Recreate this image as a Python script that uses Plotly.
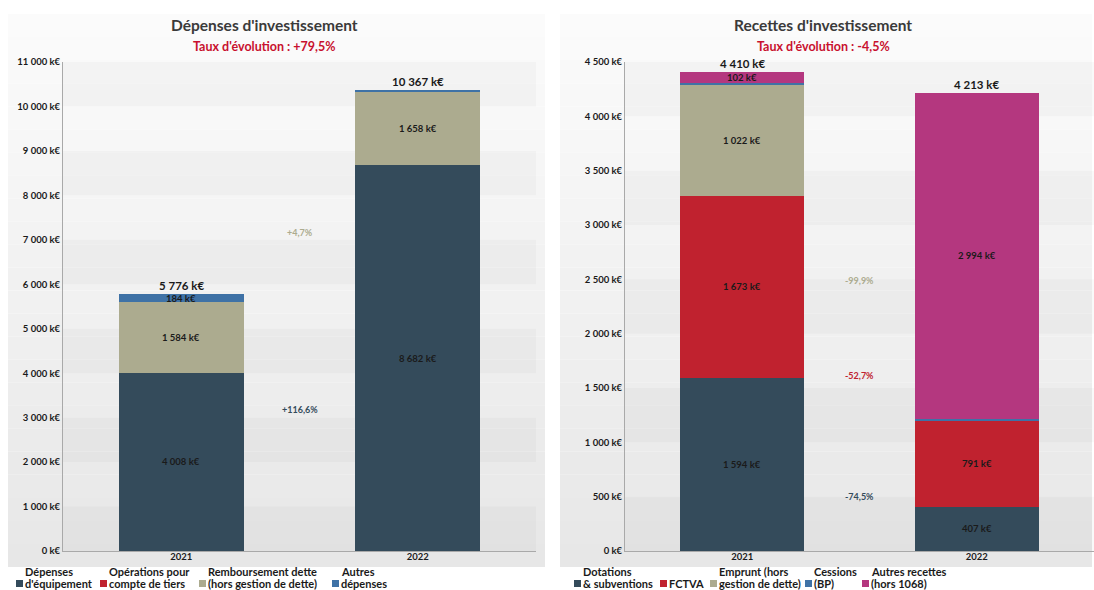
import plotly.graph_objects as go

# ---- data -------------------------------------------------------------
years = ["2021", "2022"]

# Dépenses d'investissement (k€)
dep_names = ["Dépenses<br>d'équipement", "Opérations pour<br>compte de tiers",
             "Remboursement dette<br>(hors gestion de dette)", "Autres<br>dépenses"]
dep_equipement = [4008, 8682]
dep_operations = [0, 0]
dep_remboursement = [1584, 1658]
dep_autres = [184, 27]
dep_totals = [5776, 10367]

# Recettes d'investissement (k€)
rec_names = ["Dotations<br>& subventions", "FCTVA", "Emprunt (hors<br>gestion de dette)",
             "Cessions<br>(BP)", "Autres recettes<br>(hors 1068)"]
rec_dotations = [1594, 407]
rec_fctva = [1673, 791]
rec_emprunt = [1022, 1]
rec_cessions = [19, 20]
rec_autres = [102, 2994]
rec_totals = [4410, 4213]

dep_tickvals = [0, 1000, 2000, 3000, 4000, 5000, 6000, 7000, 8000, 9000, 10000, 11000]
dep_ticktext = ["0 k€", "1 000 k€", "2 000 k€", "3 000 k€", "4 000 k€", "5 000 k€",
                "6 000 k€", "7 000 k€", "8 000 k€", "9 000 k€", "10 000 k€", "11 000 k€"]
rec_tickvals = [0, 500, 1000, 1500, 2000, 2500, 3000, 3500, 4000, 4500]
rec_ticktext = ["0 k€", "500 k€", "1 000 k€", "1 500 k€", "2 000 k€", "2 500 k€",
                "3 000 k€", "3 500 k€", "4 000 k€", "4 500 k€"]

# ---- styling ----------------------------------------------------------
FONT = "Lato"
C_SLATE = "#344b5b"
C_RED = "#c0222f"
C_OLIVE = "#acab8f"
C_BLUE = "#3f72a6"
C_MAGENTA = "#b4377f"
TXT = "#1a1a1a"

W, H = 1094, 590
M_T, M_B = 62, 39
PLOT_H = H - M_T - M_B


def py(px):
    """pixel row -> paper y"""
    return (H - M_B - px) / PLOT_H


def px_x(px):
    return px / W


def keur(v):
    return f"{v:,}".replace(",", "\u00a0") + "\u00a0k€"


def evol(a, b):
    return f"{(b / a - 1) * 100:+.1f}%".replace(".", ",")


fig = go.Figure()

panels = [
    dict(xa="x", ya="y",
         series=[(dep_names[0], dep_equipement, C_SLATE, True),
                 (dep_names[1], dep_operations, C_RED, False),
                 (dep_names[2], dep_remboursement, C_OLIVE, True),
                 (dep_names[3], dep_autres, C_BLUE, False)],
         totals=dep_totals,
         legend_x=[16, 100, 199, 332]),
    dict(xa="x2", ya="y2",
         series=[(rec_names[0], rec_dotations, C_SLATE, True),
                 (rec_names[1], rec_fctva, C_RED, True),
                 (rec_names[2], rec_emprunt, C_OLIVE, True),
                 (rec_names[3], rec_cessions, C_BLUE, False),
                 (rec_names[4], rec_autres, C_MAGENTA, False)],
         totals=rec_totals,
         legend_x=[574, 660, 710, 805, 862]),
]

annotations = []
shapes = []

# panel backgrounds: soft vertical gradient
steps = 24
for x0, x1 in [(8, 545), (560, 1092)]:
    top, bot = 14, 567
    for k in range(steps):
        t = k / (steps - 1)
        g = int(round(251 - 20 * t))
        y0 = top + (bot - top) * k / steps
        y1 = top + (bot - top) * (k + 1) / steps
        shapes.append(dict(type="rect", xref="paper", yref="paper", layer="below",
                           x0=px_x(x0), x1=px_x(x1), y0=py(y1), y1=py(y0),
                           fillcolor=f"rgb({g},{g},{g})", line=dict(width=0)))

LEGEND_LINE_Y = [571, 583]  # pixel rows of the two legend text lines

for p in panels:
    base = [0, 0]
    for (name, vals, color, show_evol), lx in zip(p["series"], p["legend_x"]):
        fig.add_trace(go.Bar(
            x=years, y=vals, name=name, marker=dict(color=color, line=dict(width=0)),
            width=0.53, xaxis=p["xa"], yaxis=p["ya"], hoverinfo="skip", showlegend=False,
        ))
        m = [base[i] + vals[i] / 2 for i in range(2)]
        for i in range(2):
            if vals[i] >= 50:
                annotations.append(dict(
                    x=i, y=m[i], xref=p["xa"], yref=p["ya"], text=keur(vals[i]),
                    showarrow=False, xanchor="center", yanchor="middle",
                    font=dict(family=FONT, size=9.5, color=TXT, weight="bold")))
        if show_evol:
            annotations.append(dict(
                x=0.5, y=(m[0] + m[1]) / 2, xref=p["xa"], yref=p["ya"], text=evol(vals[0], vals[1]),
                showarrow=False, xanchor="center", yanchor="middle",
                font=dict(family=FONT, size=9, color=color, weight="bold")))
        base = [base[i] + vals[i] for i in range(2)]

        # legend entry: swatch + label lines (last line level with the swatch)
        shapes.append(dict(type="rect", xref="paper", yref="paper",
                           x0=px_x(lx), x1=px_x(lx + 7), y0=py(587), y1=py(580),
                           fillcolor=color, line=dict(width=0)))
        lines = name.split("<br>")
        rows = LEGEND_LINE_Y[-len(lines):]
        for line, row in zip(lines, rows):
            annotations.append(dict(
                x=px_x(lx + 8), y=py(row), xref="paper", yref="paper", text=line,
                showarrow=False, xanchor="left", yanchor="middle", align="left", borderpad=0,
                font=dict(family=FONT, size=11, color=TXT, weight="bold")))

    for i in range(2):
        annotations.append(dict(
            x=i, y=p["totals"][i], xref=p["xa"], yref=p["ya"], text=keur(p["totals"][i]),
            showarrow=False, xanchor="center", yanchor="bottom", yshift=0,
            font=dict(family=FONT, size=11.5, color=TXT, weight="bold")))

# panel titles
for cx, title, tot in [(264, "Dépenses d'investissement", dep_totals),
                       (823, "Recettes d'investissement", rec_totals)]:
    annotations.append(dict(x=px_x(cx), y=py(25), xref="paper", yref="paper", text=title,
                            showarrow=False, xanchor="center", yanchor="middle",
                            font=dict(family=FONT, size=15.5, color="#3a3a3a", weight="bold")))
    annotations.append(dict(x=px_x(cx), y=py(47), xref="paper", yref="paper",
                            text="Taux d'évolution : " + evol(tot[0], tot[1]),
                            showarrow=False, xanchor="center", yanchor="middle",
                            font=dict(family=FONT, size=12.5, color="#c8102e", weight="bold")))

# alternating horizontal bands in each plot area
for xa, ya, ticks in [("x", "y", dep_tickvals), ("x2", "y2", rec_tickvals)]:
    for k in range(len(ticks) - 1):
        if k % 2 == 0:
            shapes.append(dict(type="rect", xref=f"{xa} domain", yref=ya, layer="below",
                               x0=0, x1=1, y0=ticks[k], y1=ticks[k + 1],
                               fillcolor="rgba(0,0,0,0.025)", line=dict(width=0)))

axis_common = dict(showgrid=False, zeroline=False, showline=True, linecolor="#a9a9a9", linewidth=1,
                   tickfont=dict(family=FONT, size=9.5, color=TXT, weight="bold"), ticks="")
x_common = dict(type="category", range=[-0.5, 1.5], ticklabelstandoff=-3, **axis_common)

fig.update_layout(
    width=W, height=H, barmode="stack",
    margin=dict(l=0, r=0, t=M_T, b=M_B, autoexpand=False),
    paper_bgcolor="white", plot_bgcolor="rgba(0,0,0,0)",
    font=dict(family=FONT, color=TXT),
    xaxis=dict(domain=[px_x(63), px_x(536)], anchor="y", **x_common),
    yaxis=dict(domain=[0, 1], anchor="x", range=[0, 11000], tickvals=dep_tickvals,
               ticktext=dep_ticktext, **axis_common),
    xaxis2=dict(domain=[px_x(625), px_x(1094)], anchor="y2", **x_common),
    yaxis2=dict(domain=[0, 1], anchor="x2", range=[0, 4500], tickvals=rec_tickvals,
                ticktext=rec_ticktext, **axis_common),
    annotations=annotations,
    shapes=shapes,
    showlegend=False,
)

fig.write_html("out.html")
